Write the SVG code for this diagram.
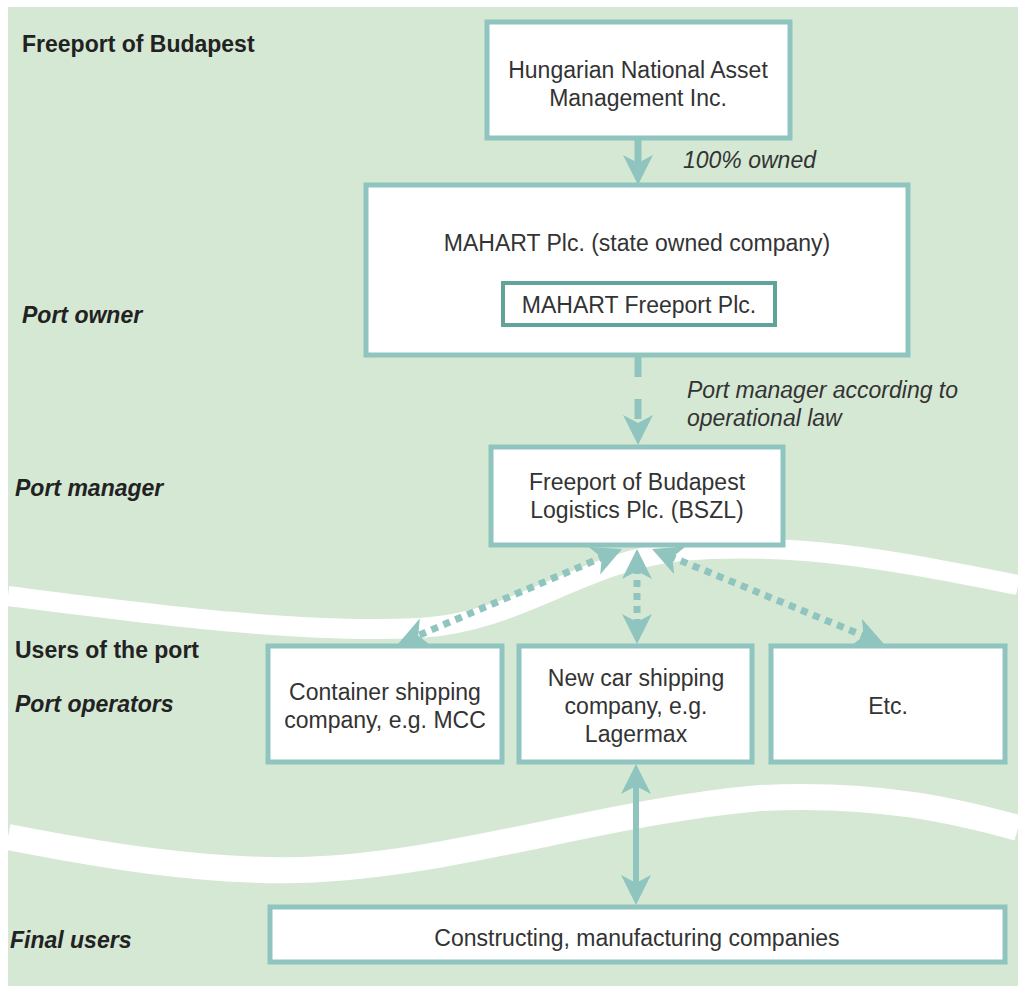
<svg xmlns="http://www.w3.org/2000/svg" width="1018" height="986" viewBox="0 0 1018 986">
<style>
.box{fill:#ffffff;stroke:#8fc4bf;stroke-width:5}
.inner{fill:#ffffff;stroke:#5fa39a;stroke-width:4}
.t{font-family:"Liberation Sans",Arial,sans-serif;font-size:23px;fill:#333333;text-anchor:middle}
.lab{font-family:"Liberation Sans",Arial,sans-serif;font-size:23px;fill:#222222;font-weight:bold}
.it{font-style:italic}
.note{font-family:"Liberation Sans",Arial,sans-serif;font-size:23px;fill:#333333;font-style:italic}
.wave{fill:none;stroke:#ffffff}
.conn{fill:none;stroke:#8fc4bf}
</style>
<defs>
<marker id="ah" viewBox="0 0 30 30" refX="12" refY="15" markerWidth="30" markerHeight="30" orient="auto-start-reverse" markerUnits="userSpaceOnUse">
<path d="M0,0 L30,15 L0,30 L8,15 z" fill="#8fc4bf"/>
</marker>
</defs>
<rect x="8" y="7" width="1010" height="979" fill="#d5e8d4"/>
<g id="waves">
<path class="wave" stroke-width="20" d="M8,596 C150,614 300,634 420,628 C520,622 580,562 680,551 C800,541 900,562 1018,585"/>
<path class="wave" stroke-width="26" d="M8,837 C100,855 200,872 300,870 C450,866 600,812 760,798 C880,792 960,812 1018,828"/>
</g>
<g id="labels">
<text class="lab" x="22" y="52">Freeport of Budapest</text>
<text class="lab it" x="22" y="323">Port owner</text>
<text class="lab it" x="15" y="496">Port manager</text>
<text class="lab" x="15" y="658">Users of the port</text>
<text class="lab it" x="15" y="712">Port operators</text>
<text class="lab it" x="10" y="948">Final users</text>
</g>
<g id="connectors">
<path class="conn" stroke-width="7" d="M638,140 L638,167" marker-end="url(#ah)"/>
<path class="conn" stroke-width="7" stroke-dasharray="20 22" d="M638,357 L638,427" marker-end="url(#ah)"/>
<path class="conn" stroke-width="6" d="M636,782 L636,887" marker-start="url(#ah)" marker-end="url(#ah)"/>
<path class="conn" stroke-width="7" stroke-dasharray="7 6" d="M605.4,556 L414.6,637" marker-start="url(#ah)" marker-end="url(#ah)"/>
<path class="conn" stroke-width="7" stroke-dasharray="7 6" d="M637,567 L637,626" marker-start="url(#ah)" marker-end="url(#ah)"/>
<path class="conn" stroke-width="7" stroke-dasharray="7 6" d="M668.7,555.8 L867.3,637.2" marker-start="url(#ah)" marker-end="url(#ah)"/>
<text class="note" x="683" y="168">100% owned</text>
<text class="note" x="687" y="398">Port manager according to</text>
<text class="note" x="687" y="426">operational law</text>
</g>
<g id="n-hnam">
<rect class="box" x="487" y="22" width="303" height="116"/>
<text class="t" x="638" y="78">Hungarian National Asset</text>
<text class="t" x="638" y="106">Management Inc.</text>
</g>
<g id="n-mahart">
<rect class="box" x="366" y="185" width="542" height="170"/>
<text class="t" x="637" y="251">MAHART Plc. (state owned company)</text>
</g>
<g id="n-freeport">
<rect class="inner" x="503" y="283" width="272" height="42"/>
<text class="t" x="639" y="313">MAHART Freeport Plc.</text>
</g>
<g id="n-bszl">
<rect class="box" x="491" y="447" width="292" height="98"/>
<text class="t" x="637" y="490">Freeport of Budapest</text>
<text class="t" x="637" y="518">Logistics Plc. (BSZL)</text>
</g>
<g id="n-container">
<rect class="box" x="268" y="646" width="234" height="116"/>
<text class="t" x="385" y="700">Container shipping</text>
<text class="t" x="385" y="728">company, e.g. MCC</text>
</g>
<g id="n-newcar">
<rect class="box" x="519" y="646" width="233" height="116"/>
<text class="t" x="636" y="686">New car shipping</text>
<text class="t" x="636" y="714">company, e.g.</text>
<text class="t" x="636" y="742">Lagermax</text>
</g>
<g id="n-etc">
<rect class="box" x="771" y="646" width="234" height="116"/>
<text class="t" x="888" y="714">Etc.</text>
</g>
<g id="n-final">
<rect class="box" x="270" y="907" width="735" height="55"/>
<text class="t" x="637" y="946">Constructing, manufacturing companies</text>
</g>
</svg>
